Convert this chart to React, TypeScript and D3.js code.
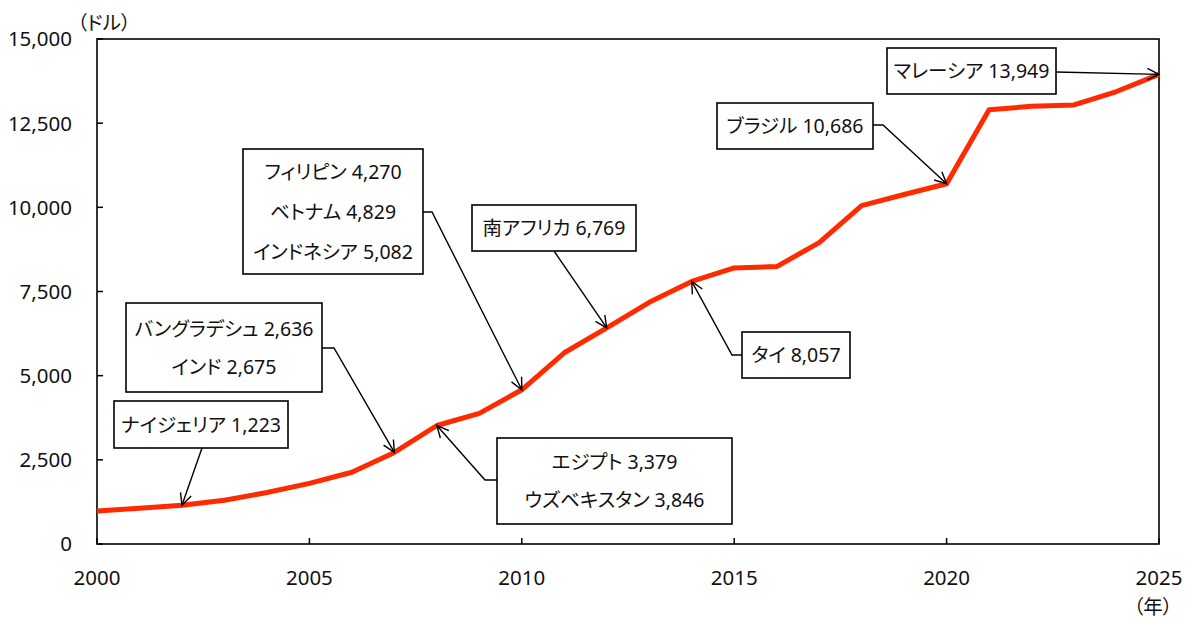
import React from "react";
import * as d3 from "d3";

const years = d3.range(2000, 2026);
const values = [980, 1060, 1150, 1300, 1530, 1800, 2130, 2720, 3520, 3880, 4580, 5680, 6420, 7180, 7800, 8200, 8240, 8950, 10050, 10380, 10700, 12900, 13000, 13040, 13440, 13949];
const yTicks = [0, 2500, 5000, 7500, 10000, 12500, 15000];
const xTicks = [2000, 2005, 2010, 2015, 2020, 2025];

const annoLabels = [
  ["ナイジェリア 1,223"],
  ["バングラデシュ 2,636", "インド 2,675"],
  ["エジプト 3,379", "ウズベキスタン 3,846"],
  ["フィリピン 4,270", "ベトナム 4,829", "インドネシア 5,082"],
  ["南アフリカ 6,769"],
  ["タイ 8,057"],
  ["ブラジル 10,686"],
  ["マレーシア 13,949"],
];
const annoYears = [2002, 2007, 2008, 2010, 2012, 2014, 2020, 2025];

// layout (pixel boxes & leader elbows)
const annoLayout = [
  { x: 114, y: 401, w: 174, h: 47, start: [202, 448], elbow: null },
  { x: 126, y: 303, w: 196, h: 89, start: [322, 348], elbow: [334, 348] },
  { x: 497, y: 438, w: 235, h: 86, start: [497, 480], elbow: [485, 480] },
  { x: 243, y: 149, w: 180, h: 125, start: [423, 212], elbow: [432, 212] },
  { x: 472, y: 205, w: 164, h: 46, start: [554, 251], elbow: null },
  { x: 742, y: 332, w: 108, h: 46, start: [742, 355], elbow: [732, 355] },
  { x: 717, y: 103, w: 156, h: 46, start: [873, 125], elbow: [883, 125] },
  { x: 887, y: 48, w: 169, h: 46, start: [1056, 72], elbow: null },
];

const W = 1191, H = 621;
const left = 97, right = 1159, top = 39, bottom = 544;
const FONT = "'Noto Sans', 'Noto Sans CJK JP', sans-serif";

export default function App() {
  const x = d3.scaleLinear().domain([2000, 2025]).range([left, right]);
  const y = d3.scaleLinear().domain([0, 15000]).range([bottom, top]);
  const line = d3.line<number>().x((_, i) => x(years[i])).y((d) => y(d));

  return (
    <svg width={W} height={H} style={{ position: "absolute", left: 0, top: 0, fontFamily: FONT, fontFeatureSettings: "'palt'" }}>
      <rect x={0} y={0} width={W} height={H} fill="#fff" />
      <rect x={left} y={top} width={right - left} height={bottom - top} fill="none" stroke="#000" strokeWidth={1.6} />
      {yTicks.map((t) => (
        <g key={"y" + t}>
          <line x1={left} x2={left + 6} y1={y(t)} y2={y(t)} stroke="#000" strokeWidth={1.5} />
          <text x={72} y={y(t)} dy="0.36em" textAnchor="end" fontSize={20.5} fill="#111">
            {d3.format(",")(t)}
          </text>
        </g>
      ))}
      {xTicks.map((t) => (
        <g key={"x" + t}>
          <line x1={x(t)} x2={x(t)} y1={bottom} y2={bottom - 6} stroke="#000" strokeWidth={1.5} />
          <text x={x(t)} y={585} textAnchor="middle" fontSize={20.5} fill="#111">
            {t}
          </text>
        </g>
      ))}
      <text x={104} y={30} textAnchor="middle" fontSize={19.5} fill="#111">（ドル）</text>
      <text x={1153} y={614} textAnchor="middle" fontSize={19.5} fill="#111">（年）</text>

      <path d={line(values) || ""} fill="none" stroke="#ff2a00" strokeWidth={5} strokeLinejoin="round" />

      {annoLayout.map((a, i) => {
        const yr = annoYears[i];
        const tip: [number, number] = [x(yr), y(values[years.indexOf(yr)])];
        const from = a.elbow || a.start;
        const ang = Math.atan2(tip[1] - from[1], tip[0] - from[0]);
        const L = 13, sp = 0.45;
        const h1 = [tip[0] - L * Math.cos(ang - sp), tip[1] - L * Math.sin(ang - sp)];
        const h2 = [tip[0] - L * Math.cos(ang + sp), tip[1] - L * Math.sin(ang + sp)];
        const pts = a.elbow ? [a.start, a.elbow, tip] : [a.start, tip];
        const lines = annoLabels[i];
        const gap = lines.length === 3 ? 40 : 38;
        const cy = a.y + a.h / 2;
        return (
          <g key={"a" + i}>
            <polyline points={pts.map((p) => p.join(",")).join(" ")} fill="none" stroke="#000" strokeWidth={1.4} />
            <polyline points={`${h1[0]},${h1[1]} ${tip[0]},${tip[1]} ${h2[0]},${h2[1]}`} fill="none" stroke="#000" strokeWidth={1.4} />
            <rect x={a.x} y={a.y} width={a.w} height={a.h} fill="#fff" stroke="#000" strokeWidth={1.6} />
            {lines.map((s, j) => (
              <text key={j} x={a.x + a.w / 2} y={cy + (j - (lines.length - 1) / 2) * gap} dy="0.36em" textAnchor="middle" fontSize={19.5} fill="#111">
                {s}
              </text>
            ))}
          </g>
        );
      })}
    </svg>
  );
}
